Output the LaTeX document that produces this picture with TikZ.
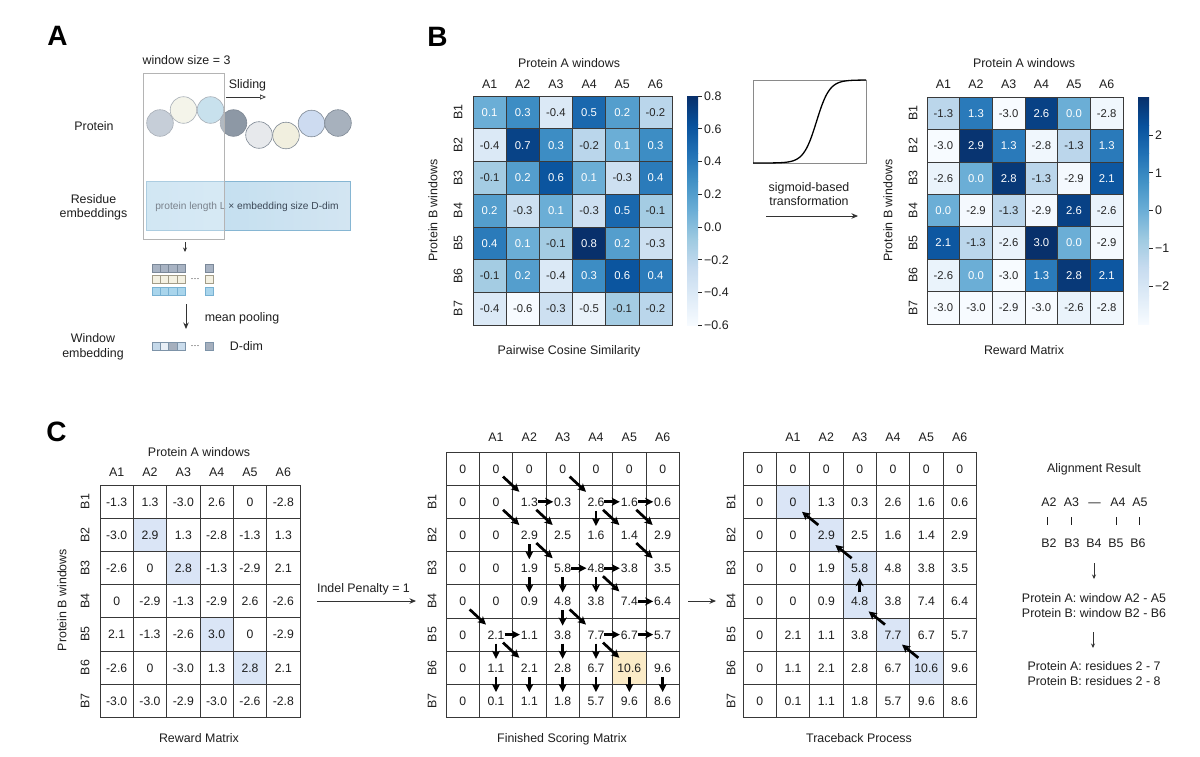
\documentclass[tikz,border=0pt]{standalone}
\usepackage{fontspec}
\setmainfont{Liberation Sans}
\usetikzlibrary{arrows.meta}
\definecolor{bl0}{HTML}{F7FBFF}
\definecolor{bl1}{HTML}{DEEBF7}
\definecolor{bl2}{HTML}{C6DBEF}
\definecolor{bl3}{HTML}{9ECAE1}
\definecolor{bl4}{HTML}{6BAED6}
\definecolor{bl5}{HTML}{4292C6}
\definecolor{bl6}{HTML}{2171B5}
\definecolor{bl7}{HTML}{08519C}
\definecolor{bl8}{HTML}{08306B}
\definecolor{txtc}{HTML}{1E1E1E}
\definecolor{hmtxt}{HTML}{262626}
\definecolor{hmline}{HTML}{3A3A3A}
\definecolor{mlinec}{HTML}{383838}
\definecolor{hlb}{HTML}{DAE5F6}
\definecolor{hly}{HTML}{FBEBC7}
\definecolor{cA1}{HTML}{ACB7C6}
\definecolor{cA2}{HTML}{EFEFE1}
\definecolor{cA3}{HTML}{AFD3E5}
\definecolor{cA4}{HTML}{8D98A5}
\definecolor{cA5}{HTML}{E7E9EC}
\definecolor{cA6}{HTML}{F1EFDF}
\definecolor{cA7}{HTML}{CDDBF0}
\definecolor{cA8}{HTML}{A7B1BD}
\definecolor{cbord}{HTML}{7E8894}
\definecolor{winb}{HTML}{B4B4B4}
\definecolor{embl}{HTML}{BCDCEE}
\definecolor{embr}{HTML}{D3E5F2}
\definecolor{embd}{HTML}{86B6D3}
\definecolor{embtxt}{HTML}{3B4756}
\definecolor{arrg}{HTML}{333333}
\definecolor{sq1f}{HTML}{A8B3C3}
\definecolor{sq1d}{HTML}{7B8898}
\definecolor{sq2f}{HTML}{F4F1E2}
\definecolor{sq2d}{HTML}{A29C88}
\definecolor{sq3f}{HTML}{A9D5EC}
\definecolor{sq3d}{HTML}{78B1D2}
\definecolor{we1}{HTML}{C5D9EA}
\definecolor{we2}{HTML}{E9EFF6}
\definecolor{we3}{HTML}{A5AFBD}
\definecolor{we4}{HTML}{CADCEC}
\definecolor{wed}{HTML}{7D93A8}
\definecolor{sigb}{HTML}{8A8A8A}

\newcommand{\heatmapdraw}[8]{%
 \foreach \row [count=\r from 0] in {#8} {
   \foreach \v [count=\c from 0] in \row {
     \pgfmathsetmacro{\hmT}{max(0,min(7.999,8*(\v-(#6))/(#7)))}
     \pgfmathtruncatemacro{\hmK}{floor(\hmT)}
     \pgfmathtruncatemacro{\hmKK}{\hmK+1}
     \pgfmathtruncatemacro{\hmP}{round(100*(\hmT-\hmK))}
     \pgfmathtruncatemacro{\hmW}{\hmT>3.6}
     \ifnum\hmW=1\def\hmTC{white}\else\def\hmTC{hmtxt}\fi
     \path[fill=bl\hmKK!\hmP!bl\hmK, draw=hmline, line width=0.6pt] ({#2+#4*\c},{#3+#5*\r}) rectangle ++(#4,#5);
     \node[hv, text=\hmTC] (#1-\r-\c) at ({#2+#4*(\c+0.5)},{#3+#5*(\r+0.5)}) {\v};
   }
 }
}
\newcommand{\colorbardraw}[3]{%
 \foreach \k in {0,...,7} {
   \pgfmathtruncatemacro{\kk}{\k+1}
   \shade[bottom color=bl\k, top color=bl\kk] (#1,{#3-(#3-#2)*\k/8}) rectangle ({#1+11},{#3-(#3-#2)*(\k+1)/8});
 }
}
\newcommand{\matdraw}[4]{%
 \foreach \row [count=\r from 0] in {#4} {
  \foreach \v [count=\c from 0] in \row {
   \draw[mline] ({#2+33.33*\c},{#3+33.2*\r}) rectangle ++(33.33,33.2);
   \node[mv] (#1-\r-\c) at ({#2+33.33*(\c+0.5)},{#3+33.2*(\r+0.5)}) {\v};
  }}}

\begin{document}
\begin{tikzpicture}[x=1pt,y=-1pt,
  txt/.style={font=\fontsize{12.4}{14}\selectfont, inner sep=0pt, text=txtc, text height=8.9pt, text depth=0pt},
  panel/.style={font=\fontsize{28}{30}\selectfont\bfseries, inner sep=0pt, text=black},
  hv/.style={font=\fontsize{11.3}{13}\selectfont, inner sep=0pt, text height=8.1pt, text depth=0pt},
  mv/.style={font=\fontsize{12.2}{14}\selectfont, inner sep=0pt, text=txtc, text height=8.8pt, text depth=0pt},
  res/.style={circle, draw=cbord, line width=0.6pt, minimum size=26.6pt, inner sep=0pt},
  mline/.style={draw=mlinec, line width=0.9pt},
  sarr/.style={-{Stealth[length=8pt,width=8pt,inset=2pt]}, line width=2.7pt, draw=black},
  thinarr/.style={-{Stealth[length=6.5pt,width=5.5pt]}, line width=0.9pt, draw=arrg},
  tinyarr/.style={-{Stealth[length=4.5pt,width=4pt]}, line width=0.8pt, draw=arrg},
  sqb/.style={line width=0.6pt},
]
\useasboundingbox (0,0) rectangle (1200,756);
\fill[white] (0,0) rectangle (1200,756);

%%%%%%%% Panel A
\node[panel] (pA) at (57.5,35.5) {A};
\node[txt] (ws) at (186.5,60.5) {window size = 3};
\node[res, fill=cA1] (c1) at (160,123) {};
\node[res, fill=cA2] (c2) at (183.5,110) {};
\node[res, fill=cA3] (c3) at (210.5,110) {};
\node[res, fill=cA4] (c4) at (233.5,123) {};
\node[res, fill=cA5] (c5) at (259,135) {};
\node[res, fill=cA6] (c6) at (286,135.5) {};
\node[res, fill=cA7] (c7) at (311.5,123.5) {};
\node[res, fill=cA8] (c8) at (338,123) {};
\node[draw=embd, left color=embl, right color=embr, line width=0.8pt, minimum width=204pt, minimum height=49pt, inner sep=0pt] (emb) at (248,205.5) {};
\node[txt, font=\fontsize{10.2}{12}\selectfont, text=embtxt, text height=7.3pt] (embt) at (247,205.5) {protein length L × embedding size D-dim};
\node[draw=winb, fill=white, fill opacity=0.32, line width=0.8pt, minimum width=81pt, minimum height=166pt, inner sep=0pt] (win) at (183.5,156) {};
\node[txt] (slide) at (247.5,84) {Sliding};
\coordinate (sl1) at (226,97);
\coordinate (sl2) at (266,97);
\draw[-{Triangle[open,length=6pt,width=5pt]}, line width=0.7pt, draw=arrg] (sl1) -- (sl2);
\node[txt] (prot) at (94,126) {Protein};
\node[txt] (re1) at (93.5,199) {Residue};
\node[txt] (re2) at (93.5,213.5) {embeddings};
\coordinate (ar1s) at (185,242);
\coordinate (ar1e) at (185,252);
\draw[tinyarr] (ar1s) -- (ar1e);
\foreach \j in {0,1,2,3} {
  \draw[sqb, fill=sq1f, draw=sq1d] ({152+8.3*\j},264) rectangle ++(8.3,8);
  \draw[sqb, fill=sq2f, draw=sq2d] ({152+8.3*\j},275.5) rectangle ++(8.3,8);
  \draw[sqb, fill=sq3f, draw=sq3d] ({152+8.3*\j},287) rectangle ++(8.3,8);
}
\draw[sqb, fill=sq1f, draw=sq1d] (205,264) rectangle ++(8.3,8);
\draw[sqb, fill=sq2f, draw=sq2d] (205,275.5) rectangle ++(8.3,8);
\draw[sqb, fill=sq3f, draw=sq3d] (205,287) rectangle ++(8.3,8);
\node[txt, font=\fontsize{9}{10}\selectfont, text height=3pt] (ell1) at (195,279.5) {···};
\coordinate (ar2s) at (186,304);
\coordinate (ar2e) at (186,329);
\draw[thinarr] (ar2s) -- (ar2e);
\node[txt] (mp) at (242,317) {mean pooling};
\draw[sqb, fill=we1, draw=wed] (152,342) rectangle ++(8.3,8);
\draw[sqb, fill=we2, draw=wed] (160.3,342) rectangle ++(8.3,8);
\draw[sqb, fill=we3, draw=wed] (168.6,342) rectangle ++(8.3,8);
\draw[sqb, fill=we4, draw=wed] (176.9,342) rectangle ++(8.3,8);
\draw[sqb, fill=we3, draw=wed] (205,342) rectangle ++(8.3,8);
\node[txt, font=\fontsize{9}{10}\selectfont, text height=3pt] (ell2) at (195,346.5) {···};
\node[txt] (dd) at (246.5,346.5) {D-dim};
\node[txt] (we1) at (93,338) {Window};
\node[txt] (we2) at (93,353) {embedding};

%%%%%%%% Panel B
\node[panel] (pB) at (437.5,37) {B};
% heatmap 1
\node[txt] (t1) at (569,63) {Protein A windows};
\heatmapdraw{h1}{473}{96}{33.17}{32.71}{-0.6}{1.4}{{0.1,0.3,-0.4,0.5,0.2,-0.2},{-0.4,0.7,0.3,-0.2,0.1,0.3},{-0.1,0.2,0.6,0.1,-0.3,0.4},{0.2,-0.3,0.1,-0.3,0.5,-0.1},{0.4,0.1,-0.1,0.8,0.2,-0.3},{-0.1,0.2,-0.4,0.3,0.6,0.4},{-0.4,-0.6,-0.3,-0.5,-0.1,-0.2}}
\foreach \i in {1,...,6} {
  \node[txt] (h1c\i) at ({473+33.17*(\i-0.5)},84) {A\i};
}
\foreach \i in {1,...,7} {
  \node[txt, rotate=90] (h1r\i) at (458,{96+32.71*(\i-0.5)}) {B\i};
}
\node[txt, rotate=90] (h1y) at (433,210.5) {Protein B windows};
\node[txt] (h1t) at (569,350) {Pairwise Cosine Similarity};
\colorbardraw{687}{96}{325}
\foreach \val/\lab in {0.8/0.8,0.6/0.6,0.4/0.4,0.2/0.2,0.0/0.0,-0.2/−0.2,-0.4/−0.4,-0.6/−0.6} {
  \draw[hmtxt, line width=0.6pt] (698,{325-(\val+0.6)/1.4*229}) -- (701.5,{325-(\val+0.6)/1.4*229});
  \node[txt, anchor=west] (cb1-\lab) at (704,{325-(\val+0.6)/1.4*229}) {\lab};
}
% sigmoid
\node[draw=sigb, line width=0.8pt, minimum width=113pt, minimum height=83pt, inner sep=0pt] (sig) at (809.5,121.5) {};
\draw[line width=1.3pt, black] plot[domain=-63.5:49.5, samples=90, smooth] ({\x+816.5},{163-83/(1+exp(min(9,-\x/6.5)))});
\node[txt] (sg1) at (809,187) {sigmoid-based};
\node[txt] (sg2) at (809,201.5) {transformation};
\coordinate (sga) at (766,216);
\coordinate (sgb) at (858,216);
\draw[thinarr] (sga) -- (sgb);
% heatmap 2
\node[txt] (t2) at (1024,63) {Protein A windows};
\heatmapdraw{h2}{927}{97}{32.67}{32.43}{-3}{6}{{-1.3,1.3,-3.0,2.6,0.0,-2.8},{-3.0,2.9,1.3,-2.8,-1.3,1.3},{-2.6,0.0,2.8,-1.3,-2.9,2.1},{0.0,-2.9,-1.3,-2.9,2.6,-2.6},{2.1,-1.3,-2.6,3.0,0.0,-2.9},{-2.6,0.0,-3.0,1.3,2.8,2.1},{-3.0,-3.0,-2.9,-3.0,-2.6,-2.8}}
\foreach \i in {1,...,6} {
  \node[txt] (h2c\i) at ({927+32.67*(\i-0.5)},84) {A\i};
}
\foreach \i in {1,...,7} {
  \node[txt, rotate=90] (h2r\i) at (913,{97+32.43*(\i-0.5)}) {B\i};
}
\node[txt, rotate=90] (h2y) at (888,210.5) {Protein B windows};
\node[txt] (h2t) at (1024,350) {Reward Matrix};
\colorbardraw{1138}{97}{324}
\foreach \val/\lab in {2/2,1/1,0/0,-1/−1,-2/−2} {
  \draw[hmtxt, line width=0.6pt] (1149,{324-(\val+3)/6*227}) -- (1152.5,{324-(\val+3)/6*227});
  \node[txt, anchor=west] (cb2-\lab) at (1155,{324-(\val+3)/6*227}) {\lab};
}

%%%%%%%% Panel C
\node[panel] (pC) at (56.5,431.5) {C};
% matrix 1
\node[txt] (m1t) at (199,452) {Protein A windows};
\foreach \r/\c in {1/1,2/2,4/3,5/4} {
  \fill[hlb] ({100+33.33*\c},{485+33.2*\r}) rectangle ++(33.33,33.2);
}
\matdraw{m1}{100}{485}{{-1.3,1.3,-3.0,2.6,0,-2.8},{-3.0,2.9,1.3,-2.8,-1.3,1.3},{-2.6,0,2.8,-1.3,-2.9,2.1},{0,-2.9,-1.3,-2.9,2.6,-2.6},{2.1,-1.3,-2.6,3.0,0,-2.9},{-2.6,0,-3.0,1.3,2.8,2.1},{-3.0,-3.0,-2.9,-3.0,-2.6,-2.8}}
\foreach \i in {1,...,6} {
  \node[txt] (m1c\i) at ({100+33.33*(\i-0.5)},472.5) {A\i};
}
\foreach \i in {1,...,7} {
  \node[txt, rotate=90] (m1r\i) at (85,{485+33.2*(\i-0.5)}) {B\i};
}
\node[txt, rotate=90] (m1y) at (62,600) {Protein B windows};
\node[txt] (m1b) at (199,738) {Reward Matrix};
% indel arrow
\node[txt] (ind) at (363.5,588) {Indel Penalty = 1};
\coordinate (ind1) at (317,601);
\coordinate (ind2) at (416,601);
\draw[thinarr] (ind1) -- (ind2);
% matrix 2
\fill[hly] ({446+33.33*5},{452+33.2*6}) rectangle ++(33.33,33.2);
\matdraw{m2}{446}{452}{{0,0,0,0,0,0,0},{0,0,1.3,0.3,2.6,1.6,0.6},{0,0,2.9,2.5,1.6,1.4,2.9},{0,0,1.9,5.8,4.8,3.8,3.5},{0,0,0.9,4.8,3.8,7.4,6.4},{0,2.1,1.1,3.8,7.7,6.7,5.7},{0,1.1,2.1,2.8,6.7,10.6,9.6},{0,0.1,1.1,1.8,5.7,9.6,8.6}}
\foreach \i in {1,...,6} {
  \node[txt] (m2c\i) at ({446+33.33*(\i+0.5)},437.5) {A\i};
}
\foreach \i in {1,...,7} {
  \node[txt, rotate=90] (m2r\i) at (432,{452+33.2*(\i+0.5)}) {B\i};
}
\node[txt] (m2b) at (562,738) {Finished Scoring Matrix};
% arrows in matrix 2
\foreach \r/\c in {0/1,0/3,1/1,1/2,1/4,1/5,2/2,2/5,3/4,4/0,4/3,5/1,5/4} {
  \pgfmathtruncatemacro{\rr}{\r+1}
  \pgfmathtruncatemacro{\cc}{\c+1}
  \draw[sarr] ([shift={(7,8)}]m2-\r-\c.center) -- ([shift={(-10,-10)}]m2-\rr-\cc.center);
}
\foreach \r/\c in {1/2,1/4,1/5,3/3,3/4,4/5,5/1,5/4,5/5} {
  \pgfmathtruncatemacro{\cc}{\c+1}
  \draw[sarr] ([xshift=8.5pt]m2-\r-\c.center) -- ([xshift=-9.5pt]m2-\r-\cc.center);
}
\foreach \r/\c in {1/4,2/2,3/2,3/3,3/4,4/3,5/1,5/3,5/4,6/1,6/2,6/3,6/4,6/5,6/6} {
  \pgfmathtruncatemacro{\rr}{\r+1}
  \draw[sarr] ([shift={(0,9)}]m2-\r-\c.center) -- ([shift={(0,-9)}]m2-\rr-\c.center);
}
% arrow to matrix 3
\coordinate (tr1) at (688,601);
\coordinate (tr2) at (716,601);
\draw[thinarr] (tr1) -- (tr2);
% matrix 3
\foreach \r/\c in {1/1,2/2,3/3,4/3,5/4,6/5} {
  \fill[hlb] ({743+33.33*\c},{452+33.2*\r}) rectangle ++(33.33,33.2);
}
\matdraw{m3}{743}{452}{{0,0,0,0,0,0,0},{0,0,1.3,0.3,2.6,1.6,0.6},{0,0,2.9,2.5,1.6,1.4,2.9},{0,0,1.9,5.8,4.8,3.8,3.5},{0,0,0.9,4.8,3.8,7.4,6.4},{0,2.1,1.1,3.8,7.7,6.7,5.7},{0,1.1,2.1,2.8,6.7,10.6,9.6},{0,0.1,1.1,1.8,5.7,9.6,8.6}}
\foreach \i in {1,...,6} {
  \node[txt] (m3c\i) at ({743+33.33*(\i+0.5)},437.5) {A\i};
}
\foreach \i in {1,...,7} {
  \node[txt, rotate=90] (m3r\i) at (731,{452+33.2*(\i+0.5)}) {B\i};
}
\node[txt] (m3b) at (859,738) {Traceback Process};
\foreach \r/\c in {6/5,5/4,3/3,2/2} {
  \pgfmathtruncatemacro{\rr}{\r-1}
  \pgfmathtruncatemacro{\cc}{\c-1}
  \draw[sarr] ([shift={(-8,-10)}]m3-\r-\c.center) -- ([shift={(9,10)}]m3-\rr-\cc.center);
}
\draw[sarr] ([shift={(0,-9)}]m3-4-3.center) -- ([shift={(0,10)}]m3-3-3.center);

% alignment result
\node[txt] (alr) at (1094,468) {Alignment Result};
\node[txt] (al-a2) at (1049,502) {A2};
\node[txt] (al-a3) at (1071.5,502) {A3};
\node[txt] (al-gap) at (1094.5,502) {—};
\node[txt] (al-a4) at (1118,502) {A4};
\node[txt] (al-a5) at (1140,502) {A5};
\draw[txtc, line width=0.9pt] (1047.5,517) -- (1047.5,525);
\draw[txtc, line width=0.9pt] (1071,517) -- (1071,525);
\draw[txtc, line width=0.9pt] (1116,517) -- (1116,525);
\draw[txtc, line width=0.9pt] (1139,517) -- (1139,525);
\node[txt] (al-b2) at (1049,543) {B2};
\node[txt] (al-b3) at (1072,543) {B3};
\node[txt] (al-b4) at (1094,543) {B4};
\node[txt] (al-b5) at (1116,543) {B5};
\node[txt] (al-b6) at (1138,543) {B6};
\coordinate (alA1) at (1094,563);
\coordinate (alA2) at (1094,579);
\draw[tinyarr] (alA1) -- (alA2);
\node[txt] (pa1) at (1094,598) {Protein A: window A2 - A5};
\node[txt] (pb1) at (1094,613) {Protein B: window B2 - B6};
\coordinate (alB1) at (1093,632);
\coordinate (alB2) at (1093,648);
\draw[tinyarr] (alB1) -- (alB2);
\node[txt] (pa2) at (1094,666) {Protein A: residues 2 - 7};
\node[txt] (pb2) at (1094,681) {Protein B: residues 2 - 8};
\end{tikzpicture}
\end{document}
